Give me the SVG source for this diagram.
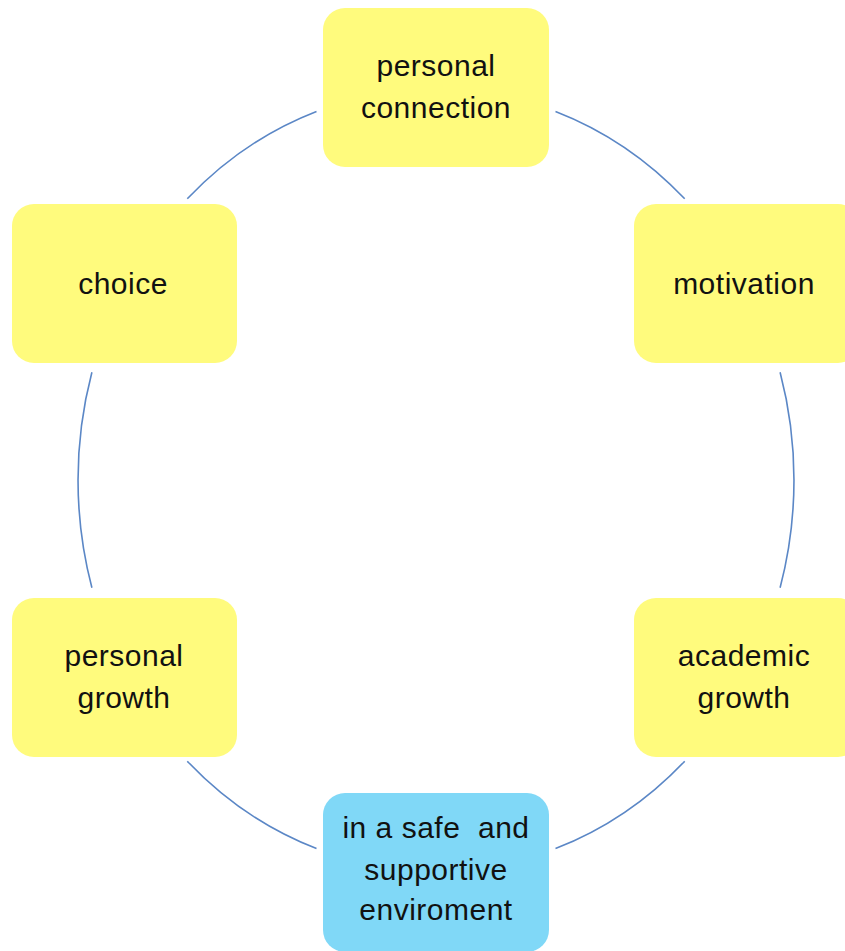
<svg xmlns="http://www.w3.org/2000/svg" width="845" height="951" viewBox="0 0 845 951">
<style>
.n{stroke:none}
.y{fill:#FFFB7D}
.b{fill:#80D8F7}
.t{font-family:"Liberation Sans",Arial,sans-serif;font-size:30px;fill:#111;text-anchor:middle;letter-spacing:0.5px}
.c{fill:none;stroke:#5B87C6;stroke-width:1.6}
</style>
<rect width="845" height="951" fill="#fff"/>
<g id="connectors">
<path class="c" d="M187.3,198.8 A358,391 0 0,1 316.5,111.4"/>
<path class="c" d="M555.5,111.4 A358,391 0 0,1 684.7,198.8"/>
<path class="c" d="M780.1,372.2 A358,391 0 0,1 780.1,587.8"/>
<path class="c" d="M684.7,761.2 A358,391 0 0,1 555.5,848.6"/>
<path class="c" d="M316.5,848.6 A358,391 0 0,1 187.3,761.2"/>
<path class="c" d="M91.9,587.8 A358,391 0 0,1 91.9,372.2"/>
</g>
<g id="personal-connection">
<rect class="n y" x="323" y="8" width="226" height="159" rx="22"/>
<text class="t" x="436" y="76">personal</text>
<text class="t" x="436" y="118">connection</text>
</g>
<g id="motivation">
<rect class="n y" x="634" y="204" width="226" height="159" rx="22"/>
<text class="t" x="744" y="294">motivation</text>
</g>
<g id="academic-growth">
<rect class="n y" x="634" y="598" width="226" height="159" rx="22"/>
<text class="t" x="744" y="666">academic</text>
<text class="t" x="744" y="708">growth</text>
</g>
<g id="safe-environment">
<rect class="n b" x="323" y="793" width="226" height="159" rx="22"/>
<text class="t" x="436" y="838" xml:space="preserve">in a safe  and</text>
<text class="t" x="436" y="880">supportive</text>
<text class="t" x="436" y="920">enviroment</text>
</g>
<g id="personal-growth">
<rect class="n y" x="12" y="598" width="225" height="159" rx="22"/>
<text class="t" x="124" y="666">personal</text>
<text class="t" x="124" y="708">growth</text>
</g>
<g id="choice">
<rect class="n y" x="12" y="204" width="225" height="159" rx="22"/>
<text class="t" x="123" y="294">choice</text>
</g>
</svg>
